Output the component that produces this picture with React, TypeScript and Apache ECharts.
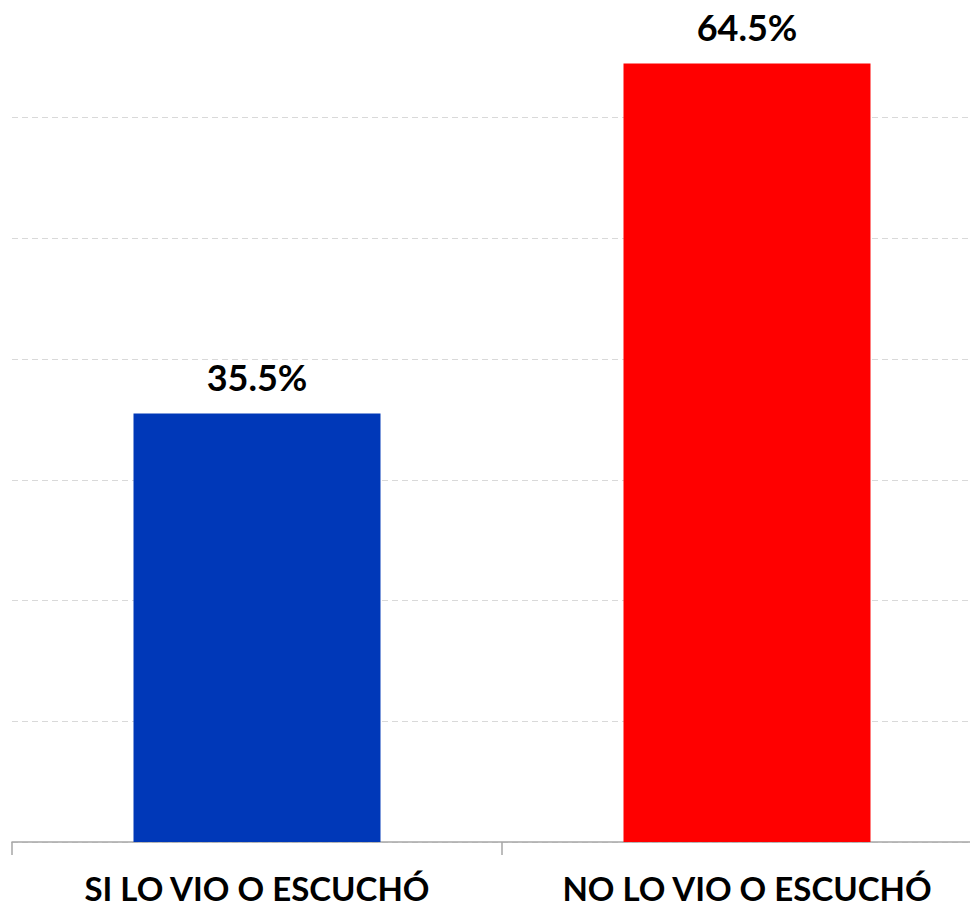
import React, { useEffect, useRef } from "react";
import * as echarts from "echarts";

const categories = ["SI LO VIO O ESCUCHÓ", "NO LO VIO O ESCUCHÓ"];
const values = [35.5, 64.5];
const barColors = ["#0038b8", "#ff0000"];

export default function App() {
  const ref = useRef<HTMLDivElement>(null);
  useEffect(() => {
    document.body.style.margin = "0";
    const chart = echarts.init(ref.current!, null, { renderer: "svg" });
    chart.setOption({
      animation: false,
      grid: {
        left: 12,
        top: 0,
        right: -22,
        bottom: 67,
        containLabel: false,
        outerBoundsMode: "none",
      },
      xAxis: {
        type: "category",
        data: categories,
        axisLine: { lineStyle: { color: "#a6a6a6", width: 1.5 } },
        axisTick: { show: true, length: 13, lineStyle: { color: "#a6a6a6", width: 1.5 } },
        axisLabel: {
          interval: 0,
          margin: 31,
          color: "#000",
          fontFamily: "Lato",
          fontWeight: "bold",
          fontSize: 33,
          lineHeight: 30,
        },
      },
      yAxis: {
        type: "value",
        min: 0,
        max: 69.75,
        interval: 10,
        axisLabel: { show: false },
        axisLine: { show: false },
        axisTick: { show: false },
        splitLine: {
          showMaxLine: false,
          lineStyle: { color: "#d9d9d9", type: [6, 4], width: 1 },
        },
      },
      series: [
        {
          type: "bar",
          barWidth: 247,
          data: values.map((v, i) => ({ value: v, itemStyle: { color: barColors[i] } })),
          label: {
            show: true,
            position: "top",
            distance: 18,
            formatter: (p: any) => p.value.toFixed(1) + "%",
            color: "#000",
            fontFamily: "Lato",
            fontWeight: "bold",
            fontSize: 36,
          },
        },
      ],
    });
    return () => chart.dispose();
  }, []);
  return <div ref={ref} style={{ width: 970, height: 909 }} />;
}
